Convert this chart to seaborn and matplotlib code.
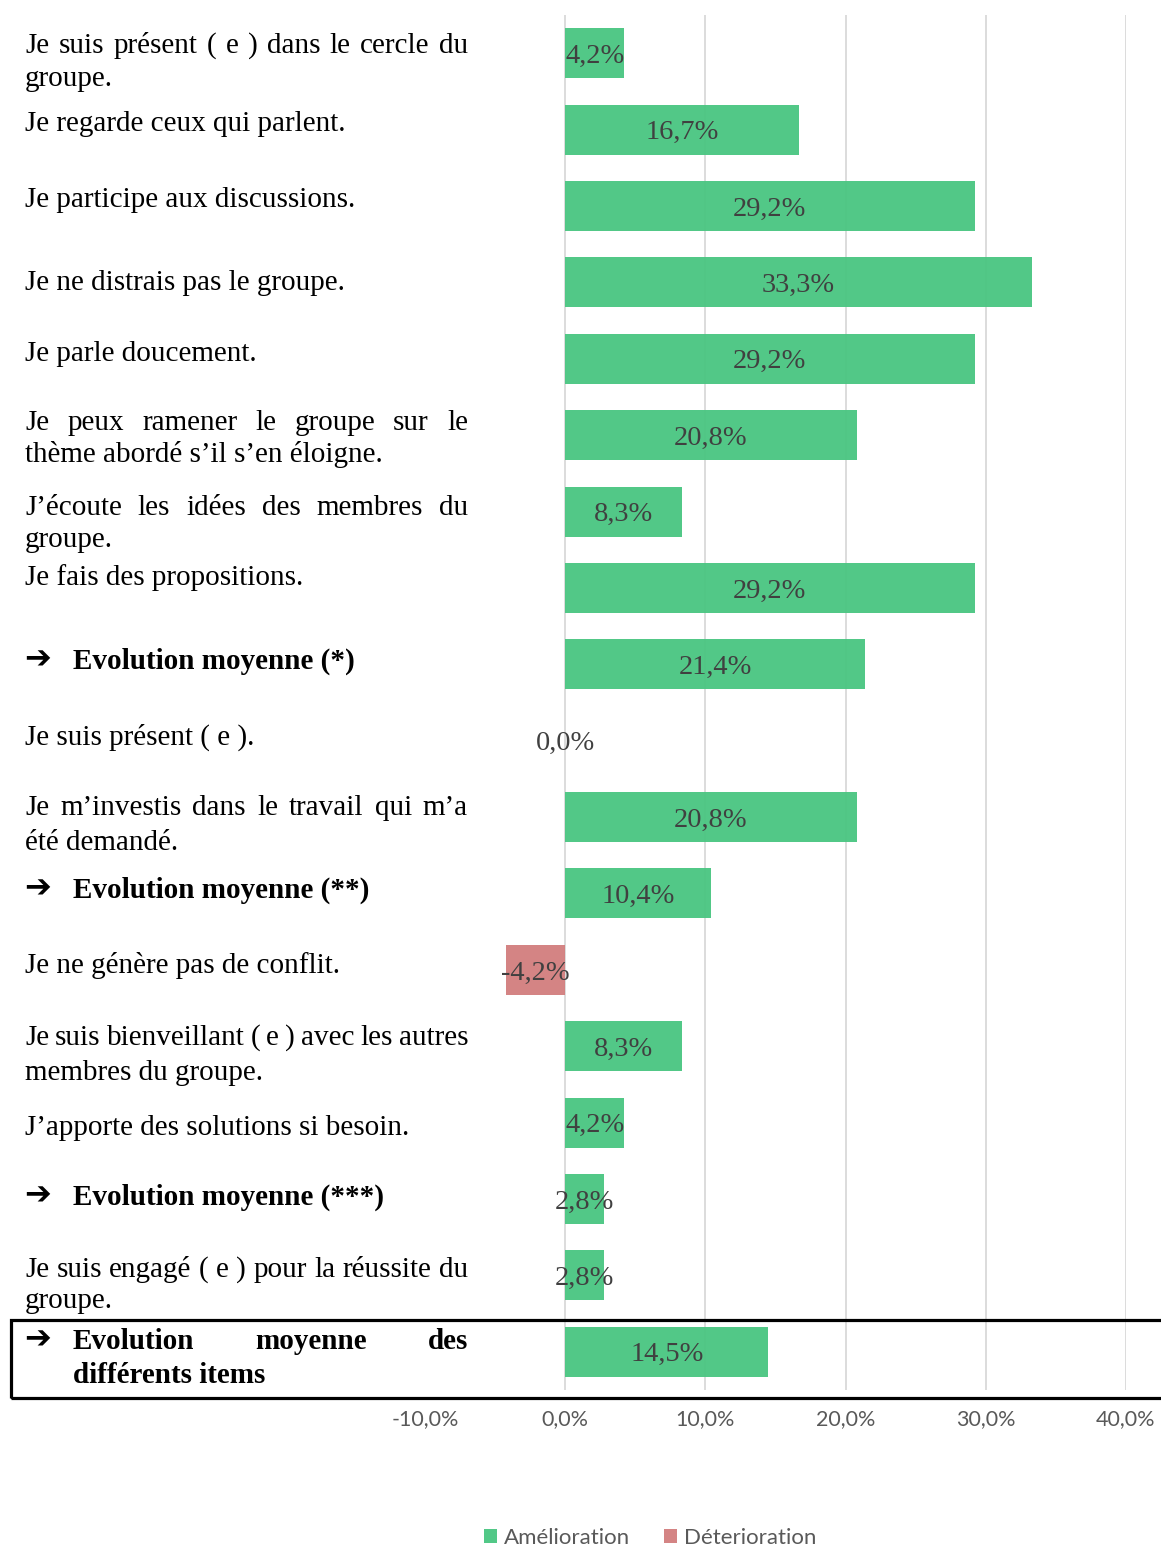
import matplotlib
matplotlib.use("Agg")
import matplotlib.pyplot as plt
import seaborn as sns
import pandas as pd
from matplotlib.patches import Rectangle

# ---------------- data ----------------
row_lines = [
    ["Je suis présent ( e ) dans le cercle du", "groupe."],
    ["Je regarde ceux qui parlent."],
    ["Je participe aux discussions."],
    ["Je ne distrais pas le groupe."],
    ["Je parle doucement."],
    ["Je peux ramener le groupe sur le", "thème abordé s’il s’en éloigne."],
    ["J’écoute les idées des membres du", "groupe."],
    ["Je fais des propositions."],
    ["Evolution moyenne (*)"],
    ["Je suis présent ( e )."],
    ["Je m’investis dans le travail qui m’a", "été demandé."],
    ["Evolution moyenne (**)"],
    ["Je ne génère pas de conflit."],
    ["Je suis bienveillant ( e ) avec les autres", "membres du groupe."],
    ["J’apporte des solutions si besoin."],
    ["Evolution moyenne (***)"],
    ["Je suis engagé ( e ) pour la réussite du", "groupe."],
    ["Evolution moyenne des", "différents items"],
]
summary_rows = [8, 11, 15, 17]
values = [4.2, 16.7, 29.2, 33.3, 29.2, 20.8, 8.3, 29.2, 21.4, 0.0,
          20.8, 10.4, -4.2, 8.3, 4.2, 2.8, 2.8, 14.5]
series_names = ["Amélioration", "Déterioration"]
tick_values = [-10, 0, 10, 20, 30, 40]
tick_labels = ["-10,0%", "0,0%", "10,0%", "20,0%", "30,0%", "40,0%"]

items = [" ".join(l) for l in row_lines]
df = pd.DataFrame({
    "item": items,
    "value": values,
    "serie": [series_names[0] if v >= 0 else series_names[1] for v in values],
})

# ---------------- layout ----------------
W, H = 1161, 1547
sns.set_theme(style="white")
plt.rcParams["font.family"] = ["Liberation Serif", "DejaVu Sans"]
fig = plt.figure(figsize=(W / 100, H / 100), dpi=100)

ax_l, ax_r, ax_t, ax_b = 425, 1126, 15, 1390
ax = fig.add_axes([ax_l / W, 1 - ax_b / H, (ax_r - ax_l) / W, (ax_b - ax_t) / H])

palette = {"Amélioration": "#49C581", "Déterioration": "#D27D7D"}
sns.barplot(data=df, x="value", y="item", hue="serie", hue_order=series_names,
            order=items, palette=palette, dodge=False, width=0.655,
            saturation=1, alpha=0.95, linewidth=0, orient="h", ax=ax)

for t in tick_values[1:]:
    ax.axvline(t, color="#dcdcdc", lw=1.4, zorder=0.5)

ax.set_xlim(-10, 40)
ax.set_ylim(len(items) - 0.5, -0.5)
ax.set_xticks(tick_values)
ax.set_xticklabels(tick_labels, fontfamily="Lato", fontsize=15.5, color="#595959")
ax.tick_params(axis="x", length=0, pad=14)
ax.set_yticks([])
ax.set_xlabel("")
ax.set_ylabel("")
for s in ax.spines.values():
    s.set_visible(False)

for i, v in enumerate(values):
    ax.text(v / 2, i + 0.04, f"{v:.1f}%".replace(".", ","), ha="center", va="center",
            fontfamily="Liberation Serif", fontsize=20.5, color="#404040", zorder=5)

leg = ax.legend(loc="center", bbox_to_anchor=(650 / W, 1 - 1538 / H),
                bbox_transform=fig.transFigure, ncol=2, frameon=False,
                borderaxespad=0, borderpad=0,
                handlelength=0.62, handleheight=0.62, handletextpad=0.3,
                columnspacing=1.5, prop={"family": "Lato", "size": 16})
for txt in leg.get_texts():
    txt.set_color("#595959")

# ---------------- left labels ----------------
baselines = [[53, 86], [131], [207], [290], [361], [430, 462], [515, 547], [585],
             [669], [745], [815, 850], [898], [973], [1045, 1080], [1135], [1205],
             [1277, 1308], [1349, 1383]]
X0, X1, XB = 25, 468, 73
FS = 21
renderer = fig.canvas.get_renderer()


def put(x, y, s, **kw):
    return fig.text(x / W, 1 - y / H, s, va="baseline", ha="left", **kw)


def justified(line, y, x0, x1, **kw):
    words = line.split(" ")
    texts = [put(x0, y, w, **kw) for w in words]
    widths = [t.get_window_extent(renderer).width for t in texts]
    gap = (x1 - x0 - sum(widths)) / (len(words) - 1)
    x = x0
    for t, w in zip(texts, widths):
        t.set_x(x / W)
        x += w + gap


for i, lines in enumerate(row_lines):
    bold = i in summary_rows
    kw = dict(fontsize=FS, color="black", fontweight="bold" if bold else "normal",
              fontfamily="Liberation Serif")
    x0 = XB if bold else X0
    if bold:
        put(X0 - 1, baselines[i][0] - 1, "➔", fontsize=23, fontweight="bold",
            fontfamily="DejaVu Sans", color="black")
    for j, (line, yb) in enumerate(zip(lines, baselines[i])):
        if j == 0 and len(lines) > 1:
            justified(line, yb, x0, X1, **kw)
        else:
            put(x0, yb, line, **kw)

box = Rectangle((11 / W, 1 - 1398 / H), 1.2, 78 / H, transform=fig.transFigure,
                fill=False, edgecolor="black", lw=2.3, clip_on=False)
fig.patches.append(box)

fig.savefig("out.png", dpi=100, facecolor="white")
